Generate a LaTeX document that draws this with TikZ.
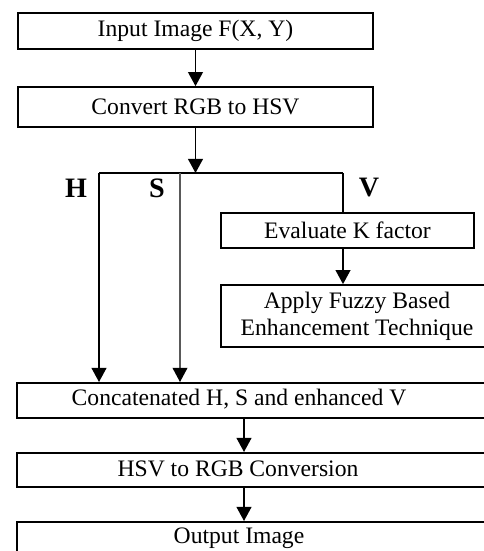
\documentclass[tikz,border=0pt]{standalone}
\usepackage{fontspec}
\setmainfont{Liberation Serif}
\usetikzlibrary{arrows.meta}
\tikzset{
	block/.style={draw,line width=1.2pt,inner sep=0pt,font=\fontsize{16.8}{19.2}\selectfont},
	blocktext/.style={inner sep=0pt,font=\fontsize{16.8}{19.2}\selectfont},
	flow/.style={line width=1.2pt,-{Triangle[width=10.5pt,length=10pt]}},
	chan/.style={font=\bfseries\fontsize{20}{24}\selectfont},
}
\begin{document}
\begin{tikzpicture}[x=0.025cm,y=-0.025cm]
	\clip (0,0) rectangle (484,551);

	%top blocks
	\node[block,minimum width=8.875cm,minimum height=0.9cm] (input) at (195.5,31) {Input Image F(X, Y)};
	\node[block,minimum width=8.875cm,minimum height=1cm] (rgbhsv) at (195.5,107) {Convert RGB to HSV};

	%V branch blocks
	\node[block,minimum width=6.325cm,minimum height=0.875cm] (kfactor) at (347.5,230.5) {Evaluate K factor};
	\node[block,minimum width=6.8cm,minimum height=1.55cm,align=center] (fuzzy) at (357,316) {Apply Fuzzy Based\\Enhancement Technique};

	%bottom blocks (cut at the right edge)
	\node[block,minimum width=12.35cm,minimum height=0.875cm,anchor=north west] (concat) at (16,382) {};
	\node[block,minimum width=12.35cm,minimum height=0.85cm,anchor=north west] (hsvrgb) at (16,452) {};
	\node[block,minimum width=12.35cm,minimum height=0.875cm,anchor=north west] (output) at (16,521) {};
	\node[blocktext] (concattxt) at (239,399.5) {Concatenated H, S and enhanced V};
	\node[blocktext] (hsvrgbtxt) at (238,469) {HSV to RGB Conversion};
	\node[blocktext] (outputtxt) at (239,538.5) {Output Image};

	%split points
	\coordinate (split) at (195.5,173);
	\coordinate (htop) at (99,173);
	\coordinate (stop) at (180,173);
	\coordinate (vtop) at (343,173);
	\coordinate (mid) at (244,0);

	%arrows
	\draw[flow] (input) -- (rgbhsv);
	\draw[flow] (rgbhsv) -- (split);
	\draw[line width=1.2pt] (htop) -- (vtop);
	\draw[flow] (htop) -- (htop |- concat.north); %H
	\draw[line width=0.8pt,black!65,-{Triangle[width=10.5pt,length=10pt,color=black]}] (stop) -- (stop |- concat.north); %S
	\draw[line width=1.2pt] (vtop) -- (vtop |- kfactor.north); %V
	\draw[flow] (kfactor.south -| vtop) -- (fuzzy.north -| vtop);
	\draw[flow] (concat.south -| mid) -- (hsvrgb.north -| mid);
	\draw[flow] (hsvrgb.south -| mid) -- (output.north -| mid);

	%channel labels
	\node[chan] (hlbl) at (76,188) {H};
	\node[chan] (slbl) at (157,188) {S};
	\node[chan] (vlbl) at (369,188) {V};
\end{tikzpicture}
\end{document}
